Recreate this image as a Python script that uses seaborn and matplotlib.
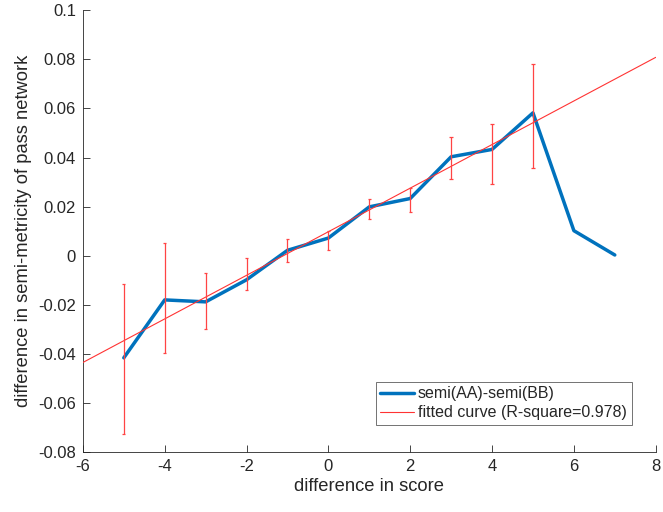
import matplotlib
matplotlib.use("Agg")
import matplotlib.pyplot as plt
import seaborn as sns
import pandas as pd
import numpy as np

# data
score_diff = [-5, -4, -3, -2, -1, 0, 1, 2, 3, 4, 5, 6, 7]
semi_diff = [-0.0416, -0.018, -0.0188, -0.0098, 0.0022, 0.0072, 0.0199, 0.0233, 0.0403, 0.0433, 0.0582, 0.0102, 0.0003]
err_x = [-5, -4, -3, -2, -1, 0, 1, 2, 3, 4, 5]
err_top = [-0.0117, 0.005, -0.007, -0.001, 0.0068, 0.0102, 0.0233, 0.0276, 0.0482, 0.0538, 0.078]
err_bottom = [-0.0727, -0.0396, -0.030, -0.014, -0.0026, 0.0023, 0.015, 0.0177, 0.0313, 0.0294, 0.0358]
fit_x = [-6, 8]
fit_y = [-0.0435, 0.0808]
x_ticks = [-6, -4, -2, 0, 2, 4, 6, 8]
y_ticks = [-0.08, -0.06, -0.04, -0.02, 0, 0.02, 0.04, 0.06, 0.08, 0.1]
y_tick_labels = ["-0.08", "-0.06", "-0.04", "-0.02", "0", "0.02", "0.04", "0.06", "0.08", "0.1"]
x_tick_labels = ["-6", "-4", "-2", "0", "2", "4", "6", "8"]

sns.set_style("white")
plt.rcParams['font.family'] = ['Liberation Sans', 'DejaVu Sans']
axcol = '#262626'

fig = plt.figure(figsize=(6.63, 5.12), dpi=100)
ax = fig.add_axes([0.125, 0.117, 0.864, 0.863])

df = pd.DataFrame({"x": score_diff, "y": semi_diff})
sns.lineplot(data=df, x="x", y="y", ax=ax, color='#0072BD', linewidth=2.5,
             label='semi(AA)-semi(BB)', zorder=3)
sns.lineplot(x=fit_x, y=fit_y, ax=ax, color='#FF3333', linewidth=0.8,
             label='fitted curve (R-square=0.978)', zorder=4)
ax.vlines(err_x, err_bottom, err_top, color='#FF4444', linewidth=0.9, zorder=5)
ax.hlines(err_top, np.array(err_x) - 0.04, np.array(err_x) + 0.04, color='#FF4444', linewidth=0.9, zorder=5)
ax.hlines(err_bottom, np.array(err_x) - 0.04, np.array(err_x) + 0.04, color='#FF4444', linewidth=0.9, zorder=5)

ax.set_xlim(-6, 8)
ax.set_ylim(-0.08, 0.1)
ax.set_xticks(x_ticks)
ax.set_xticklabels(x_tick_labels)
ax.set_yticks(y_ticks)
ax.set_yticklabels(y_tick_labels)
ax.tick_params(direction='in', length=5, width=0.6, colors=axcol, labelsize=12,
               bottom=True, left=True, pad=5)
for s in ['top', 'right']:
    ax.spines[s].set_visible(False)
for s in ['left', 'bottom']:
    ax.spines[s].set_color(axcol)
    ax.spines[s].set_linewidth(0.6)
ax.set_xlabel('difference in score', fontsize=13.2, color=axcol, labelpad=3)
ax.set_ylabel('difference in semi-metricity of pass network', fontsize=13.2, color=axcol, labelpad=4)

leg = ax.legend(loc='lower right', bbox_to_anchor=(0.958, 0.061), borderaxespad=0,
                fontsize=11.5, frameon=True, fancybox=False, edgecolor='#333333',
                handlelength=2.1, handletextpad=0.25, borderpad=0.3,
                labelspacing=0.25)
leg.get_frame().set_linewidth(0.6)

fig.savefig('out.png', dpi=100)
